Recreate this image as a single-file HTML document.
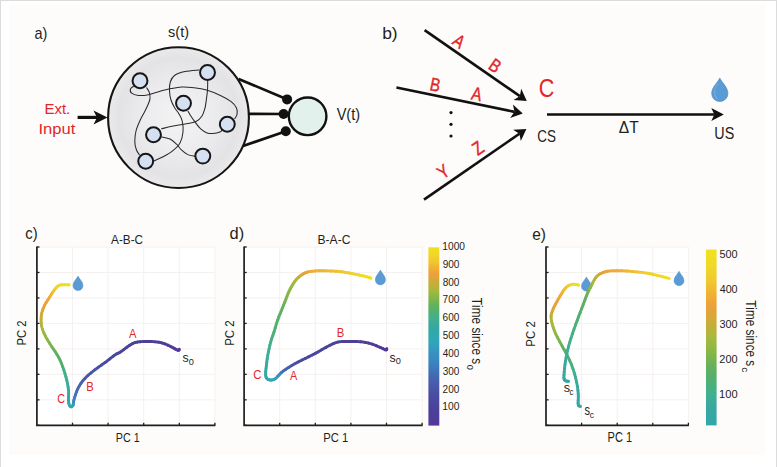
<!DOCTYPE html>
<html><head><meta charset="utf-8"><style>
html,body{margin:0;padding:0;background:#fff;overflow:hidden;}
svg{display:block;}
text{font-family:"Liberation Sans",sans-serif;font-kerning:none;stroke-width:0px;}
</style></head><body>
<svg width="777" height="467" viewBox="0 0 777 467">
<rect x="0" y="0" width="777" height="467" fill="#ffffff"/>
<rect x="9" y="4" width="756" height="451" fill="#fdfcfa"/>
<rect x="0" y="0" width="777" height="1" fill="#dcdcdc"/>
<rect x="0" y="0" width="1" height="467" fill="#dcdcdc"/>
<rect x="776" y="0" width="1" height="467" fill="#dcdcdc"/>
<text transform="translate(34.48,38.60) scale(0.908,1)" font-size="16" fill="#231f20" stroke="#231f20" >a)</text>
<text transform="translate(168.10,36.60) scale(0.934,1)" font-size="15.5" fill="#231f20" stroke="#231f20" >s(t)</text>
<text transform="translate(336.64,120.30) scale(0.922,1)" font-size="15.8" fill="#231f20" stroke="#231f20" >V(t)</text>
<text transform="translate(44.47,114.20) scale(0.972,1)" font-size="15.4" fill="#e3262a" stroke="#e3262a" >Ext.</text>
<text transform="translate(38.47,133.60) scale(1.076,1)" font-size="15.4" fill="#e3262a" stroke="#e3262a" >Input</text>
<line x1="77.6" y1="117.4" x2="97" y2="117.4" stroke="#111" stroke-width="3.2"/>
<path d="M107.5,117.4 L93.5,110.6 L97,117.4 L93.5,124.4 Z" fill="#111"/>
<defs><radialGradient id="bg" cx="0.5" cy="0.5" r="0.5"><stop offset="0" stop-color="#f3f3f4"/><stop offset="0.5" stop-color="#ecebed"/><stop offset="0.85" stop-color="#e3e2e4"/><stop offset="1" stop-color="#eaeaeb"/></radialGradient></defs>
<circle cx="178.5" cy="117.6" r="70.4" fill="url(#bg)" stroke="#151515" stroke-width="2.1"/>
<g stroke="#111" stroke-width="2.7"><line x1="238.6" y1="78.9" x2="286.9" y2="99.3"/><line x1="248.9" y1="113.9" x2="283.6" y2="114"/><line x1="243" y1="146" x2="285.9" y2="131.3"/></g>
<circle cx="307.6" cy="116.3" r="18.8" fill="#e2f1ec" stroke="#111" stroke-width="2.4"/>
<g fill="#111"><circle cx="287.1" cy="99.4" r="5.0"/><circle cx="283.6" cy="114.0" r="5.0"/><circle cx="285.8" cy="131.2" r="5.0"/></g>
<g fill="none" stroke="#2a2a2a" stroke-width="1.05"><path d="M146.50,87.50 C146.97,88.32 148.72,90.55 149.30,92.40 C149.88,94.25 150.17,96.67 150.00,98.60 C149.83,100.53 149.13,101.93 148.30,104.00 C147.47,106.07 146.38,108.25 145.00,111.00 C143.62,113.75 141.50,117.17 140.00,120.50 C138.50,123.83 136.87,127.45 136.00,131.00 C135.13,134.55 134.73,138.67 134.80,141.80 C134.87,144.93 135.62,147.60 136.40,149.80 C137.18,152.00 138.98,154.13 139.50,155.00"/><path d="M134.00,86.00 C133.42,86.47 130.90,87.60 130.50,88.80 C130.10,90.00 130.27,92.08 131.60,93.20 C132.93,94.32 135.67,95.25 138.50,95.50 C141.33,95.75 145.25,95.33 148.60,94.70 C151.95,94.07 154.87,92.72 158.60,91.70 C162.33,90.68 167.13,89.38 171.00,88.60 C174.87,87.82 177.95,87.13 181.80,87.00 C185.65,86.87 189.98,87.28 194.10,87.80 C198.22,88.32 202.12,88.82 206.50,90.10 C210.88,91.38 216.28,93.57 220.40,95.50 C224.52,97.43 228.52,99.62 231.20,101.70 C233.88,103.78 235.53,105.87 236.50,108.00 C237.47,110.13 237.33,112.67 237.00,114.50 C236.67,116.33 234.92,118.25 234.50,119.00"/><path d="M199.50,70.00 C197.08,70.27 189.17,70.68 185.00,71.60 C180.83,72.52 176.95,73.77 174.50,75.50 C172.05,77.23 171.13,79.42 170.30,82.00 C169.47,84.58 169.38,88.00 169.50,91.00 C169.62,94.00 170.17,97.25 171.00,100.00 C171.83,102.75 173.17,105.17 174.50,107.50 C175.83,109.83 177.72,111.75 179.00,114.00 C180.28,116.25 181.53,118.00 182.20,121.00 C182.87,124.00 183.37,128.33 183.00,132.00 C182.63,135.67 181.83,139.77 180.00,143.00 C178.17,146.23 175.00,149.02 172.00,151.40 C169.00,153.78 165.00,155.70 162.00,157.30 C159.00,158.90 155.33,160.38 154.00,161.00"/><path d="M207.70,80.50 C207.67,82.08 207.73,86.75 207.50,90.00 C207.27,93.25 206.72,97.00 206.30,100.00 C205.88,103.00 205.72,105.33 205.00,108.00 C204.28,110.67 203.50,113.75 202.00,116.00 C200.50,118.25 198.83,120.17 196.00,121.50 C193.17,122.83 189.00,123.22 185.00,124.00 C181.00,124.78 175.95,125.38 172.00,126.20 C168.05,127.02 163.08,128.45 161.30,128.90"/><path d="M187.80,111.00 C188.25,111.75 189.43,113.85 190.50,115.50 C191.57,117.15 192.50,118.67 194.20,120.90 C195.90,123.13 198.55,126.90 200.70,128.90 C202.85,130.90 205.05,132.13 207.10,132.90 C209.15,133.67 210.87,133.63 213.00,133.50 C215.13,133.37 218.40,132.68 219.90,132.10 C221.40,131.52 221.65,130.35 222.00,130.00"/><path d="M161.30,136.80 C162.77,137.17 167.55,137.77 170.10,139.00 C172.65,140.23 174.72,142.40 176.60,144.20 C178.48,146.00 179.53,148.07 181.40,149.80 C183.27,151.53 185.53,153.53 187.80,154.60 C190.07,155.67 193.80,155.93 195.00,156.20"/></g>
<g fill="#d5e1f3" stroke="#161616" stroke-width="2.0"><circle cx="140.0" cy="80.7" r="7.45"/><circle cx="207.5" cy="72.5" r="7.45"/><circle cx="183.5" cy="103.3" r="7.45"/><circle cx="227.3" cy="124.2" r="7.45"/><circle cx="153.5" cy="134.7" r="7.45"/><circle cx="145.7" cy="161.3" r="7.45"/><circle cx="202.8" cy="156.1" r="7.45"/></g>
<text transform="translate(382.18,38.70) scale(1.090,1)" font-size="16" fill="#231f20" stroke="#231f20" >b)</text>
<line x1="424.60" y1="30.10" x2="519.82" y2="96.15" stroke="#111" stroke-width="2.6"/>
<path d="M526.80,101.00 L513.48,100.03 L519.82,96.15 L521.23,88.86 Z" fill="#111"/>
<line x1="396.40" y1="87.40" x2="514.48" y2="111.87" stroke="#111" stroke-width="2.6"/>
<path d="M522.80,113.60 L510.16,117.92 L514.48,111.87 L512.92,104.61 Z" fill="#111"/>
<line x1="424.00" y1="199.60" x2="519.41" y2="133.73" stroke="#111" stroke-width="2.6"/>
<path d="M526.40,128.90 L520.80,141.03 L519.41,133.73 L513.07,129.84 Z" fill="#111"/>
<line x1="547.00" y1="114.50" x2="714.30" y2="114.50" stroke="#111" stroke-width="2.6"/>
<path d="M723.80,114.50 L711.30,121.10 L714.30,114.50 L711.30,107.90 Z" fill="#111"/>
<g fill="#111"><circle cx="451" cy="112.6" r="1.6"/><circle cx="451" cy="124.3" r="1.6"/><circle cx="451" cy="136" r="1.6"/></g>
<text transform="translate(451.20,43.60) rotate(34.75) scale(0.820,1)" font-size="18.6" fill="#e3262a" stroke="#e3262a" style="stroke-width:0.45px">A</text>
<text transform="translate(487.20,67.90) rotate(34.75) scale(0.820,1)" font-size="18.6" fill="#e3262a" stroke="#e3262a" style="stroke-width:0.45px">B</text>
<text transform="translate(429.10,89.90) rotate(11.70) scale(0.820,1)" font-size="18.6" fill="#e3262a" stroke="#e3262a" style="stroke-width:0.45px">B</text>
<text transform="translate(470.60,99.20) rotate(11.70) scale(0.820,1)" font-size="18.6" fill="#e3262a" stroke="#e3262a" style="stroke-width:0.45px">A</text>
<text transform="translate(442.80,179.70) rotate(-34.60) scale(0.820,1)" font-size="18.6" fill="#e3262a" stroke="#e3262a" style="stroke-width:0.45px">Y</text>
<text transform="translate(477.80,156.00) rotate(-34.60) scale(0.820,1)" font-size="18.6" fill="#e3262a" stroke="#e3262a" style="stroke-width:0.45px">Z</text>
<text transform="translate(538.70,96.70) scale(0.832,1)" font-size="26" fill="#e3262a" stroke="#e3262a" >C</text>
<text transform="translate(537.22,141.50) scale(0.774,1)" font-size="17.4" fill="#231f20" stroke="#231f20" >CS</text>
<text transform="translate(618.74,133.00) scale(0.950,1)" font-size="16.4" fill="#231f20" stroke="#231f20" >ΔT</text>
<text transform="translate(714.29,138.80) scale(0.826,1)" font-size="17.4" fill="#231f20" stroke="#231f20" >US</text>
<path d="M719.80,78.01 C721.82,82.47 727.90,87.33 727.90,93.40 A8.10,8.10 0 0 1 711.70,93.40 C711.70,87.33 717.77,82.47 719.80,78.01 Z" fill="#5b9bd5" stroke="#4b8acb" stroke-width="0.7"/>
<path d="M717.77,83.68 C713.72,88.54 713.32,95.02 716.96,98.67" fill="none" stroke="#73abde" stroke-width="1.3" stroke-linecap="round" opacity="0.8"/>
<rect x="36.9" y="247.0" width="178.0" height="178.3" fill="#ffffff"/>
<g stroke="#f5f1ef" stroke-width="1"><line x1="36.9" y1="247.00" x2="214.9" y2="247.00"/><line x1="36.9" y1="272.47" x2="214.9" y2="272.47"/><line x1="36.9" y1="297.94" x2="214.9" y2="297.94"/><line x1="36.9" y1="323.41" x2="214.9" y2="323.41"/><line x1="36.9" y1="348.89" x2="214.9" y2="348.89"/><line x1="36.9" y1="374.36" x2="214.9" y2="374.36"/><line x1="36.9" y1="399.83" x2="214.9" y2="399.83"/><line x1="36.9" y1="425.30" x2="214.9" y2="425.30"/><line x1="72.50" y1="247.0" x2="72.50" y2="425.3"/><line x1="108.10" y1="247.0" x2="108.10" y2="425.3"/><line x1="143.70" y1="247.0" x2="143.70" y2="425.3"/><line x1="179.30" y1="247.0" x2="179.30" y2="425.3"/><line x1="214.90" y1="247.0" x2="214.90" y2="425.3"/></g>
<g stroke="#1f1f1f" stroke-width="1.3"><line x1="36.9" y1="247.00" x2="39.5" y2="247.00"/><line x1="36.9" y1="272.47" x2="39.5" y2="272.47"/><line x1="36.9" y1="297.94" x2="39.5" y2="297.94"/><line x1="36.9" y1="323.41" x2="39.5" y2="323.41"/><line x1="36.9" y1="348.89" x2="39.5" y2="348.89"/><line x1="36.9" y1="374.36" x2="39.5" y2="374.36"/><line x1="36.9" y1="399.83" x2="39.5" y2="399.83"/><line x1="36.9" y1="425.30" x2="39.5" y2="425.30"/><line x1="72.50" y1="425.3" x2="72.50" y2="422.7"/><line x1="108.10" y1="425.3" x2="108.10" y2="422.7"/><line x1="143.70" y1="425.3" x2="143.70" y2="422.7"/><line x1="179.30" y1="425.3" x2="179.30" y2="422.7"/><line x1="214.90" y1="425.3" x2="214.90" y2="422.7"/></g>
<path d="M36.9,246.4 L36.9,425.3 L215.4,425.3" fill="none" stroke="#1f1f1f" stroke-width="1.7"/>
<rect x="244.1" y="247.0" width="178.0" height="178.3" fill="#ffffff"/>
<g stroke="#f5f1ef" stroke-width="1"><line x1="244.1" y1="247.00" x2="422.1" y2="247.00"/><line x1="244.1" y1="272.47" x2="422.1" y2="272.47"/><line x1="244.1" y1="297.94" x2="422.1" y2="297.94"/><line x1="244.1" y1="323.41" x2="422.1" y2="323.41"/><line x1="244.1" y1="348.89" x2="422.1" y2="348.89"/><line x1="244.1" y1="374.36" x2="422.1" y2="374.36"/><line x1="244.1" y1="399.83" x2="422.1" y2="399.83"/><line x1="244.1" y1="425.30" x2="422.1" y2="425.30"/><line x1="279.70" y1="247.0" x2="279.70" y2="425.3"/><line x1="315.30" y1="247.0" x2="315.30" y2="425.3"/><line x1="350.90" y1="247.0" x2="350.90" y2="425.3"/><line x1="386.50" y1="247.0" x2="386.50" y2="425.3"/><line x1="422.10" y1="247.0" x2="422.10" y2="425.3"/></g>
<g stroke="#1f1f1f" stroke-width="1.3"><line x1="244.1" y1="247.00" x2="246.7" y2="247.00"/><line x1="244.1" y1="272.47" x2="246.7" y2="272.47"/><line x1="244.1" y1="297.94" x2="246.7" y2="297.94"/><line x1="244.1" y1="323.41" x2="246.7" y2="323.41"/><line x1="244.1" y1="348.89" x2="246.7" y2="348.89"/><line x1="244.1" y1="374.36" x2="246.7" y2="374.36"/><line x1="244.1" y1="399.83" x2="246.7" y2="399.83"/><line x1="244.1" y1="425.30" x2="246.7" y2="425.30"/><line x1="279.70" y1="425.3" x2="279.70" y2="422.7"/><line x1="315.30" y1="425.3" x2="315.30" y2="422.7"/><line x1="350.90" y1="425.3" x2="350.90" y2="422.7"/><line x1="386.50" y1="425.3" x2="386.50" y2="422.7"/><line x1="422.10" y1="425.3" x2="422.10" y2="422.7"/></g>
<path d="M244.1,246.4 L244.1,425.3 L422.6,425.3" fill="none" stroke="#1f1f1f" stroke-width="1.7"/>
<rect x="546.0" y="247.0" width="142.4" height="178.3" fill="#ffffff"/>
<g stroke="#f5f1ef" stroke-width="1"><line x1="546.0" y1="247.00" x2="688.4" y2="247.00"/><line x1="546.0" y1="272.47" x2="688.4" y2="272.47"/><line x1="546.0" y1="297.94" x2="688.4" y2="297.94"/><line x1="546.0" y1="323.41" x2="688.4" y2="323.41"/><line x1="546.0" y1="348.89" x2="688.4" y2="348.89"/><line x1="546.0" y1="374.36" x2="688.4" y2="374.36"/><line x1="546.0" y1="399.83" x2="688.4" y2="399.83"/><line x1="546.0" y1="425.30" x2="688.4" y2="425.30"/><line x1="581.60" y1="247.0" x2="581.60" y2="425.3"/><line x1="617.20" y1="247.0" x2="617.20" y2="425.3"/><line x1="652.80" y1="247.0" x2="652.80" y2="425.3"/><line x1="688.40" y1="247.0" x2="688.40" y2="425.3"/></g>
<g stroke="#1f1f1f" stroke-width="1.3"><line x1="546.0" y1="247.00" x2="548.6" y2="247.00"/><line x1="546.0" y1="272.47" x2="548.6" y2="272.47"/><line x1="546.0" y1="297.94" x2="548.6" y2="297.94"/><line x1="546.0" y1="323.41" x2="548.6" y2="323.41"/><line x1="546.0" y1="348.89" x2="548.6" y2="348.89"/><line x1="546.0" y1="374.36" x2="548.6" y2="374.36"/><line x1="546.0" y1="399.83" x2="548.6" y2="399.83"/><line x1="546.0" y1="425.30" x2="548.6" y2="425.30"/><line x1="581.60" y1="425.3" x2="581.60" y2="422.7"/><line x1="617.20" y1="425.3" x2="617.20" y2="422.7"/><line x1="652.80" y1="425.3" x2="652.80" y2="422.7"/><line x1="688.40" y1="425.3" x2="688.40" y2="422.7"/></g>
<path d="M546.0,246.4 L546.0,425.3 L688.9,425.3" fill="none" stroke="#1f1f1f" stroke-width="1.7"/>
<text transform="translate(25.27,238.50) scale(0.927,1)" font-size="16" fill="#231f20" stroke="#231f20" >c)</text>
<text transform="translate(229.51,238.50) scale(1.027,1)" font-size="16" fill="#231f20" stroke="#231f20" >d)</text>
<text transform="translate(532.24,239.60) scale(0.964,1)" font-size="16" fill="#231f20" stroke="#231f20" >e)</text>
<text transform="translate(111.08,243.60) scale(0.860,1)" font-size="13.7" fill="#231f20" stroke="#231f20" >A-B-C</text>
<text transform="translate(317.51,243.60) scale(0.884,1)" font-size="13.7" fill="#231f20" stroke="#231f20" >B-A-C</text>
<text transform="translate(115.82,442.00) scale(0.785,1)" font-size="13.7" fill="#231f20" stroke="#231f20" >PC 1</text>
<text transform="translate(323.18,442.00) scale(0.820,1)" font-size="13.7" fill="#231f20" stroke="#231f20" >PC 1</text>
<text transform="translate(607.59,442.20) scale(0.806,1)" font-size="13.7" fill="#231f20" stroke="#231f20" >PC 1</text>
<text transform="translate(25.75,0.00) rotate(-90) translate(-345.53,0.00) scale(0.830,1)" font-size="13.6" fill="#231f20" stroke="#231f20" >PC 2</text>
<text transform="translate(233.70,0.00) rotate(-90) translate(-345.84,0.00) scale(0.841,1)" font-size="13.6" fill="#231f20" stroke="#231f20" >PC 2</text>
<text transform="translate(535.20,0.00) rotate(-90) translate(-346.64,0.00) scale(0.844,1)" font-size="13.6" fill="#231f20" stroke="#231f20" >PC 2</text>
<g fill="none" stroke-width="2.9" stroke-linecap="round" stroke-linejoin="round"><polyline points="179.30,349.30 179.26,349.37 179.22,349.47 179.17,349.60 179.12,349.74" stroke="#54389a"/><polyline points="179.12,349.74 179.06,349.89 178.98,350.02 178.87,350.14 178.75,350.24" stroke="#54389a"/><polyline points="178.75,350.24 178.59,350.29 178.40,350.30 178.18,350.26 177.93,350.20" stroke="#54389a"/><polyline points="177.93,350.20 177.67,350.11 177.37,349.99 177.06,349.86 176.72,349.70" stroke="#53399a"/><polyline points="176.72,349.70 176.35,349.52 175.96,349.33 175.54,349.12 175.10,348.90" stroke="#53399a"/><polyline points="175.10,348.90 174.63,348.66 174.13,348.39 173.60,348.09 173.05,347.78" stroke="#53399a"/><polyline points="173.05,347.78 172.47,347.45 171.88,347.11 171.26,346.78 170.62,346.44" stroke="#523a99"/><polyline points="170.62,346.44 169.97,346.11 169.30,345.80 168.61,345.49 167.88,345.16" stroke="#513b99"/><polyline points="167.88,345.16 167.13,344.83 166.36,344.50 165.57,344.18 164.77,343.86" stroke="#503c99"/><polyline points="164.77,343.86 163.97,343.56 163.17,343.28 162.38,343.02 161.60,342.80" stroke="#4f3d99"/><polyline points="161.60,342.80 160.83,342.61 160.06,342.44 159.29,342.30 158.52,342.18" stroke="#4f3d99"/><polyline points="158.52,342.18 157.75,342.07 156.98,341.98 156.21,341.90 155.44,341.83" stroke="#4e3e99"/><polyline points="155.44,341.83 154.67,341.77 153.90,341.70 153.13,341.64 152.36,341.59" stroke="#4e3e98"/><polyline points="152.36,341.59 151.59,341.55 150.82,341.53 150.05,341.51 149.28,341.49" stroke="#4e3e98"/><polyline points="149.28,341.49 148.51,341.49 147.74,341.49 146.97,341.49 146.20,341.50" stroke="#4d3f98"/><polyline points="146.20,341.50 145.42,341.51 144.62,341.53 143.81,341.55 143.00,341.57" stroke="#4d3f98"/><polyline points="143.00,341.57 142.19,341.61 141.40,341.65 140.63,341.69 139.88,341.75" stroke="#4c4098"/><polyline points="139.88,341.75 139.17,341.82 138.50,341.90 137.88,341.99 137.30,342.07" stroke="#4c4098"/><polyline points="137.30,342.07 136.75,342.17 136.24,342.27 135.74,342.38 135.25,342.51" stroke="#4c4098"/><polyline points="135.25,342.51 134.77,342.65 134.29,342.81 133.80,342.99 133.30,343.20" stroke="#4c4199"/><polyline points="133.30,343.20 132.80,343.43 132.32,343.66 131.85,343.92 131.38,344.19" stroke="#4c4199"/><polyline points="131.38,344.19 130.91,344.48 130.43,344.79 129.93,345.12 129.39,345.48" stroke="#4c429a"/><polyline points="129.39,345.48 128.82,345.88 128.20,346.30 127.52,346.78 126.77,347.32" stroke="#4b429a"/><polyline points="126.77,347.32 125.98,347.91 125.16,348.53 124.32,349.16 123.48,349.80" stroke="#4b439b"/><polyline points="123.48,349.80 122.65,350.41 121.85,351.00 121.09,351.53 120.40,352.00" stroke="#4b449c"/><polyline points="120.40,352.00 119.78,352.38 119.24,352.68 118.75,352.93 118.28,353.14" stroke="#4b459d"/><polyline points="118.28,353.14 117.83,353.33 117.37,353.54 116.88,353.77 116.33,354.06" stroke="#4b469e"/><polyline points="116.33,354.06 115.71,354.43 115.00,354.90 114.19,355.48 113.29,356.14" stroke="#4a479f"/><polyline points="113.29,356.14 112.32,356.88 111.30,357.67 110.25,358.50 109.18,359.34" stroke="#4a48a0"/><polyline points="109.18,359.34 108.12,360.18 107.07,361.00 106.06,361.78 105.10,362.50" stroke="#4a49a1"/><polyline points="105.10,362.50 104.19,363.17 103.30,363.80 102.43,364.41 101.57,365.00" stroke="#4a4ca2"/><polyline points="101.57,365.00 100.72,365.59 99.88,366.17 99.05,366.75 98.21,367.35" stroke="#4a4ea3"/><polyline points="98.21,367.35 97.36,367.96 96.50,368.60 95.62,369.27 94.72,369.95" stroke="#4a51a5"/><polyline points="94.72,369.95 93.81,370.65 92.89,371.36 91.98,372.08 91.08,372.80" stroke="#4a54a6"/><polyline points="91.08,372.80 90.21,373.52 89.36,374.22 88.56,374.92 87.80,375.60" stroke="#4a57a7"/><polyline points="87.80,375.60 87.09,376.26 86.41,376.91 85.77,377.55 85.16,378.17" stroke="#495aa9"/><polyline points="85.16,378.17 84.57,378.80 84.00,379.43 83.46,380.05 82.93,380.69" stroke="#485daa"/><polyline points="82.93,380.69 82.41,381.34 81.90,382.00 81.40,382.68 80.93,383.36" stroke="#4760ac"/><polyline points="80.93,383.36 80.46,384.06 80.02,384.76 79.59,385.46 79.18,386.17" stroke="#4663ae"/><polyline points="79.18,386.17 78.79,386.88 78.41,387.59 78.05,388.30 77.70,389.00" stroke="#4566af"/><polyline points="77.70,389.00 77.37,389.71 77.06,390.42 76.77,391.15 76.49,391.87" stroke="#436bb2"/><polyline points="76.49,391.87 76.23,392.59 75.98,393.31 75.75,394.01 75.52,394.70" stroke="#4072b6"/><polyline points="75.52,394.70 75.31,395.36 75.10,396.00 74.90,396.62 74.72,397.22" stroke="#3d78bb"/><polyline points="74.72,397.22 74.54,397.81 74.38,398.39 74.22,398.95 74.08,399.49" stroke="#3b7ebf"/><polyline points="74.08,399.49 73.95,400.02 73.82,400.53 73.71,401.03 73.60,401.50" stroke="#3983c0"/><polyline points="73.60,401.50 73.51,401.96 73.44,402.41 73.39,402.84 73.36,403.25" stroke="#3889c0"/><polyline points="73.36,403.25 73.32,403.65 73.29,404.03 73.25,404.38 73.19,404.71" stroke="#3791c0"/><polyline points="73.19,404.71 73.11,405.02 73.00,405.30 72.86,405.56 72.70,405.80" stroke="#3598bf"/><polyline points="72.70,405.80 72.53,406.03 72.33,406.23 72.13,406.41 71.92,406.56" stroke="#339ebd"/><polyline points="71.92,406.56 71.71,406.68 71.50,406.76 71.30,406.80 71.10,406.80" stroke="#32a3ba"/><polyline points="71.10,406.80 70.90,406.75 70.70,406.67 70.49,406.54 70.28,406.38" stroke="#30a7b9"/><polyline points="70.28,406.38 70.08,406.19 69.87,405.96 69.68,405.71 69.50,405.43" stroke="#30a8b5"/><polyline points="69.50,405.43 69.34,405.13 69.20,404.80 69.08,404.46 68.97,404.09" stroke="#30a8b0"/><polyline points="68.97,404.09 68.88,403.70 68.80,403.29 68.73,402.84 68.66,402.37" stroke="#30a8ad"/><polyline points="68.66,402.37 68.61,401.86 68.57,401.31 68.53,400.73 68.50,400.10" stroke="#30a8aa"/><polyline points="68.50,400.10 68.48,399.42 68.49,398.67 68.51,397.88 68.54,397.04" stroke="#32a8a6"/><polyline points="68.54,397.04 68.57,396.18 68.61,395.30 68.63,394.41 68.64,393.52" stroke="#35a8a3"/><polyline points="68.64,393.52 68.63,392.65 68.60,391.80 68.54,390.96 68.47,390.12" stroke="#38a8a0"/><polyline points="68.47,390.12 68.39,389.28 68.29,388.44 68.19,387.60 68.07,386.76" stroke="#3aaa9d"/><polyline points="68.07,386.76 67.94,385.92 67.80,385.08 67.66,384.24 67.50,383.40" stroke="#3bab9a"/><polyline points="67.50,383.40 67.33,382.57 67.15,381.74 66.96,380.91 66.76,380.08" stroke="#3dad96"/><polyline points="66.76,380.08 66.55,379.25 66.33,378.42 66.11,377.59 65.87,376.76" stroke="#3eae93"/><polyline points="65.87,376.76 65.64,375.93 65.40,375.10 65.16,374.26 64.91,373.42" stroke="#40b08f"/><polyline points="64.91,373.42 64.66,372.58 64.40,371.74 64.14,370.90 63.87,370.06" stroke="#45b086"/><polyline points="63.87,370.06 63.59,369.22 63.30,368.38 63.01,367.54 62.70,366.70" stroke="#4ab07d"/><polyline points="62.70,366.70 62.39,365.86 62.06,365.01 61.73,364.16 61.39,363.31" stroke="#4eb074"/><polyline points="61.39,363.31 61.04,362.46 60.69,361.62 60.33,360.79 59.96,359.98" stroke="#53b06d"/><polyline points="59.96,359.98 59.58,359.18 59.20,358.40 58.81,357.65 58.41,356.91" stroke="#57b069"/><polyline points="58.41,356.91 58.00,356.19 57.58,355.49 57.16,354.80 56.74,354.12" stroke="#5bb065"/><polyline points="56.74,354.12 56.30,353.44 55.87,352.76 55.44,352.08 55.00,351.40" stroke="#5eb062"/><polyline points="55.00,351.40 54.56,350.73 54.13,350.07 53.69,349.43 53.25,348.79" stroke="#65b15d"/><polyline points="53.25,348.79 52.81,348.15 52.36,347.50 51.90,346.84 51.44,346.16" stroke="#6eb256"/><polyline points="51.44,346.16 50.98,345.45 50.50,344.70 50.01,343.92 49.49,343.10" stroke="#78b450"/><polyline points="49.49,343.10 48.96,342.26 48.42,341.39 47.88,340.51 47.35,339.62" stroke="#82b64a"/><polyline points="47.35,339.62 46.82,338.73 46.32,337.84 45.84,336.96 45.40,336.10" stroke="#8bb743"/><polyline points="45.40,336.10 44.98,335.25 44.57,334.40 44.18,333.55 43.80,332.70" stroke="#95b840"/><polyline points="43.80,332.70 43.44,331.85 43.10,331.00 42.78,330.15 42.49,329.30" stroke="#9eb840"/><polyline points="42.49,329.30 42.23,328.45 42.00,327.60 41.80,326.74 41.63,325.86" stroke="#a8b840"/><polyline points="41.63,325.86 41.49,324.97 41.37,324.08 41.28,323.19 41.21,322.32" stroke="#b2b53d"/><polyline points="41.21,322.32 41.16,321.45 41.12,320.61 41.11,319.79 41.10,319.00" stroke="#bbb23a"/><polyline points="41.10,319.00 41.11,318.25 41.14,317.52 41.19,316.83 41.25,316.15" stroke="#c5ae38"/><polyline points="41.25,316.15 41.34,315.49 41.44,314.83 41.56,314.18 41.69,313.53" stroke="#ceab38"/><polyline points="41.69,313.53 41.84,312.87 42.00,312.20 42.18,311.52 42.37,310.84" stroke="#d7a838"/><polyline points="42.37,310.84 42.58,310.16 42.80,309.48 43.04,308.81 43.29,308.13" stroke="#dda639"/><polyline points="43.29,308.13 43.57,307.45 43.86,306.77 44.17,306.08 44.50,305.40" stroke="#e3a43a"/><polyline points="44.50,305.40 44.86,304.71 45.24,304.02 45.66,303.33 46.09,302.64" stroke="#e8a23b"/><polyline points="46.09,302.64 46.54,301.95 46.99,301.26 47.45,300.57 47.91,299.88" stroke="#eca13b"/><polyline points="47.91,299.88 48.36,299.19 48.80,298.50 49.23,297.81 49.66,297.11" stroke="#eea637"/><polyline points="49.66,297.11 50.09,296.40 50.52,295.70 50.95,294.99 51.38,294.30" stroke="#efae32"/><polyline points="51.38,294.30 51.81,293.62 52.24,292.96 52.67,292.31 53.10,291.70" stroke="#f0b730"/><polyline points="53.10,291.70 53.53,291.10 53.96,290.50 54.39,289.91 54.82,289.34" stroke="#f0c230"/><polyline points="54.82,289.34 55.26,288.78 55.69,288.25 56.12,287.75 56.55,287.29" stroke="#f0cc2e"/><polyline points="56.55,287.29 56.97,286.87 57.40,286.50 57.81,286.18 58.19,285.91" stroke="#f0d32b"/><polyline points="58.19,285.91 58.56,285.68 58.92,285.49 59.29,285.32 59.67,285.19" stroke="#f0d728"/><polyline points="59.67,285.19 60.09,285.07 60.54,284.98 61.04,284.89 61.60,284.80" stroke="#f0d927"/><polyline points="61.60,284.80 62.26,284.73 63.04,284.69 63.90,284.68 64.80,284.68" stroke="#f0db25"/><polyline points="64.80,284.68 65.71,284.69 66.61,284.72 67.45,284.75 68.20,284.77" stroke="#f0de22"/><polyline points="68.20,284.77 68.83,284.79 69.30,284.80" stroke="#f0df21"/></g>
<g fill="none" stroke-width="2.9" stroke-linecap="round" stroke-linejoin="round"><polyline points="386.80,348.70 386.76,348.79 386.74,348.92 386.72,349.09 386.70,349.28" stroke="#54389a"/><polyline points="386.70,349.28 386.66,349.46 386.59,349.64 386.48,349.78 386.32,349.88" stroke="#54389a"/><polyline points="386.32,349.88 386.09,349.93 385.80,349.90 385.44,349.80 385.02,349.64" stroke="#54389a"/><polyline points="385.02,349.64 384.56,349.43 384.05,349.19 383.49,348.91 382.89,348.60" stroke="#53399a"/><polyline points="382.89,348.60 382.24,348.28 381.56,347.95 380.85,347.62 380.10,347.30" stroke="#53399a"/><polyline points="380.10,347.30 379.30,346.97 378.43,346.60 377.51,346.21 376.55,345.81" stroke="#53399a"/><polyline points="376.55,345.81 375.55,345.40 374.53,345.00 373.51,344.61 372.49,344.24" stroke="#523a99"/><polyline points="372.49,344.24 371.48,343.90 370.50,343.60 369.54,343.34 368.60,343.09" stroke="#513b99"/><polyline points="368.60,343.09 367.66,342.87 366.72,342.67 365.78,342.49 364.82,342.32" stroke="#503c99"/><polyline points="364.82,342.32 363.85,342.17 362.86,342.03 361.85,341.91 360.80,341.80" stroke="#4f3d99"/><polyline points="360.80,341.80 359.72,341.71 358.60,341.63 357.46,341.57 356.29,341.53" stroke="#4f3d99"/><polyline points="356.29,341.53 355.11,341.50 353.92,341.48 352.73,341.48 351.54,341.48" stroke="#4e3e98"/><polyline points="351.54,341.48 350.36,341.49 349.20,341.50 348.04,341.51 346.86,341.50" stroke="#4d3f98"/><polyline points="346.86,341.50 345.69,341.50 344.51,341.50 343.33,341.52 342.17,341.56" stroke="#4c4098"/><polyline points="342.17,341.56 341.01,341.63 339.88,341.74 338.78,341.89 337.70,342.10" stroke="#4c4199"/><polyline points="337.70,342.10 336.66,342.37 335.65,342.69 334.67,343.05 333.70,343.45" stroke="#4c429a"/><polyline points="333.70,343.45 332.76,343.89 331.82,344.35 330.88,344.82 329.93,345.31" stroke="#4b439b"/><polyline points="329.93,345.31 328.97,345.81 328.00,346.30 326.99,346.82 325.93,347.38" stroke="#4b439b"/><polyline points="325.93,347.38 324.84,347.98 323.75,348.60 322.66,349.22 321.60,349.83" stroke="#4b449c"/><polyline points="321.60,349.83 320.59,350.42 319.64,350.97 318.77,351.47 318.00,351.90" stroke="#4b459d"/><polyline points="318.00,351.90 317.36,352.26 316.84,352.54 316.42,352.77 316.06,352.97" stroke="#4b469e"/><polyline points="316.06,352.97 315.74,353.14 315.43,353.30 315.10,353.47 314.72,353.67" stroke="#4a469e"/><polyline points="314.72,353.67 314.27,353.91 313.70,354.20 313.03,354.54 312.30,354.92" stroke="#4a479f"/><polyline points="312.30,354.92 311.51,355.32 310.67,355.74 309.81,356.18 308.92,356.63" stroke="#4a48a0"/><polyline points="308.92,356.63 308.02,357.08 307.13,357.53 306.25,357.97 305.40,358.40" stroke="#4a48a0"/><polyline points="305.40,358.40 304.56,358.82 303.73,359.23 302.89,359.64 302.05,360.05" stroke="#4a4aa1"/><polyline points="302.05,360.05 301.21,360.46 300.36,360.87 299.52,361.29 298.68,361.72" stroke="#4a4ba2"/><polyline points="298.68,361.72 297.84,362.15 297.00,362.60 296.15,363.06 295.28,363.55" stroke="#4a4da3"/><polyline points="295.28,363.55 294.41,364.04 293.53,364.54 292.66,365.05 291.80,365.56" stroke="#4a51a5"/><polyline points="291.80,365.56 290.96,366.06 290.14,366.55 289.35,367.04 288.60,367.50" stroke="#4a56a7"/><polyline points="288.60,367.50 287.88,367.95 287.18,368.40 286.49,368.84 285.83,369.27" stroke="#495caa"/><polyline points="285.83,369.27 285.19,369.69 284.58,370.11 283.99,370.52 283.43,370.92" stroke="#4663ae"/><polyline points="283.43,370.92 282.90,371.32 282.40,371.70 281.94,372.07 281.53,372.43" stroke="#426cb3"/><polyline points="281.53,372.43 281.15,372.78 280.81,373.11 280.48,373.44 280.17,373.77" stroke="#3d79bb"/><polyline points="280.17,373.77 279.86,374.10 279.56,374.43 279.24,374.76 278.90,375.10" stroke="#3984c0"/><polyline points="278.90,375.10 278.55,375.46 278.20,375.83 277.85,376.21 277.50,376.59" stroke="#388cc0"/><polyline points="277.50,376.59 277.15,376.98 276.80,377.35 276.45,377.70 276.10,378.03" stroke="#3694c0"/><polyline points="276.10,378.03 275.75,378.33 275.40,378.60 275.05,378.83 274.70,379.04" stroke="#349bbe"/><polyline points="274.70,379.04 274.35,379.23 274.00,379.40 273.65,379.54 273.30,379.67" stroke="#32a1bb"/><polyline points="273.30,379.67 272.95,379.78 272.60,379.87 272.25,379.94 271.90,380.00" stroke="#31a6b9"/><polyline points="271.90,380.00 271.54,380.04 271.18,380.07 270.81,380.08 270.44,380.07" stroke="#30a8b7"/><polyline points="270.44,380.07 270.07,380.04 269.71,379.99 269.36,379.92 269.02,379.84" stroke="#30a8b6"/><polyline points="269.02,379.84 268.70,379.73 268.40,379.60 268.11,379.45 267.83,379.29" stroke="#30a8b3"/><polyline points="267.83,379.29 267.56,379.10 267.30,378.90 267.06,378.68 266.83,378.43" stroke="#30a8af"/><polyline points="266.83,378.43 266.61,378.16 266.42,377.87 266.25,377.55 266.10,377.20" stroke="#30a8aa"/><polyline points="266.10,377.20 265.98,376.83 265.88,376.43 265.81,376.01 265.75,375.56" stroke="#31a8a7"/><polyline points="265.75,375.56 265.71,375.09 265.69,374.59 265.68,374.08 265.68,373.54" stroke="#32a8a6"/><polyline points="265.68,373.54 265.69,372.98 265.70,372.40 265.72,371.80 265.76,371.16" stroke="#34a8a4"/><polyline points="265.76,371.16 265.82,370.51 265.88,369.83 265.96,369.12 266.04,368.41" stroke="#36a8a2"/><polyline points="266.04,368.41 266.13,367.67 266.22,366.92 266.31,366.17 266.40,365.40" stroke="#37a8a1"/><polyline points="266.40,365.40 266.49,364.62 266.59,363.81 266.68,362.98 266.79,362.14" stroke="#39a99e"/><polyline points="266.79,362.14 266.89,361.28 267.00,360.42 267.12,359.56 267.24,358.70" stroke="#3aaa9b"/><polyline points="267.24,358.70 267.37,357.84 267.50,357.00 267.64,356.17 267.78,355.34" stroke="#3cac98"/><polyline points="267.78,355.34 267.93,354.51 268.08,353.68 268.24,352.85 268.40,352.02" stroke="#3eae95"/><polyline points="268.40,352.02 268.57,351.19 268.74,350.36 268.92,349.53 269.10,348.70" stroke="#3faf92"/><polyline points="269.10,348.70 269.29,347.86 269.48,347.02 269.67,346.18 269.87,345.34" stroke="#41b08e"/><polyline points="269.87,345.34 270.07,344.50 270.29,343.66 270.50,342.82 270.73,341.98" stroke="#44b089"/><polyline points="270.73,341.98 270.96,341.14 271.20,340.30 271.45,339.47 271.71,338.66" stroke="#46b084"/><polyline points="271.71,338.66 271.98,337.86 272.26,337.05 272.54,336.25 272.83,335.44" stroke="#48b07f"/><polyline points="272.83,335.44 273.12,334.61 273.42,333.77 273.71,332.90 274.00,332.00" stroke="#4bb07a"/><polyline points="274.00,332.00 274.29,331.06 274.59,330.08 274.89,329.06 275.19,328.03" stroke="#4db076"/><polyline points="275.19,328.03 275.49,326.98 275.79,325.94 276.09,324.91 276.40,323.90" stroke="#50b071"/><polyline points="276.40,323.90 276.70,322.93 277.00,322.00 277.30,321.12 277.60,320.26" stroke="#53b06d"/><polyline points="277.60,320.26 277.90,319.44 278.20,318.63 278.50,317.84 278.80,317.07" stroke="#56b06a"/><polyline points="278.80,317.07 279.10,316.30 279.40,315.54 279.70,314.77 280.00,314.00" stroke="#59b067"/><polyline points="280.00,314.00 280.30,313.23 280.60,312.47 280.90,311.71 281.20,310.96" stroke="#5db063"/><polyline points="281.20,310.96 281.50,310.22 281.80,309.48 282.10,308.73 282.40,307.99" stroke="#62b05f"/><polyline points="282.40,307.99 282.70,307.25 283.00,306.50 283.30,305.75 283.61,304.98" stroke="#68b15b"/><polyline points="283.61,304.98 283.92,304.22 284.22,303.45 284.53,302.69 284.84,301.93" stroke="#6eb256"/><polyline points="284.84,301.93 285.14,301.18 285.43,300.44 285.72,299.71 286.00,299.00" stroke="#75b352"/><polyline points="286.00,299.00 286.27,298.30 286.53,297.61 286.78,296.93 287.03,296.26" stroke="#7bb54e"/><polyline points="287.03,296.26 287.28,295.60 287.52,294.95 287.76,294.32 288.00,293.69" stroke="#82b64a"/><polyline points="288.00,293.69 288.25,293.09 288.50,292.50 288.76,291.93 289.02,291.37" stroke="#87b746"/><polyline points="289.02,291.37 289.28,290.83 289.55,290.30 289.81,289.79 290.08,289.29" stroke="#8bb743"/><polyline points="290.08,289.29 290.34,288.80 290.60,288.32 290.85,287.86 291.10,287.40" stroke="#8eb841"/><polyline points="291.10,287.40 291.34,286.96 291.58,286.54 291.81,286.13 292.04,285.73" stroke="#92b840"/><polyline points="292.04,285.73 292.26,285.34 292.49,284.97 292.71,284.60 292.94,284.23" stroke="#97b840"/><polyline points="292.94,284.23 293.17,283.86 293.40,283.50 293.63,283.14 293.86,282.78" stroke="#9cb840"/><polyline points="293.86,282.78 294.09,282.43 294.32,282.08 294.56,281.74 294.79,281.41" stroke="#a2b840"/><polyline points="294.79,281.41 295.03,281.07 295.28,280.75 295.54,280.42 295.80,280.10" stroke="#a9b840"/><polyline points="295.80,280.10 296.08,279.78 296.36,279.46 296.66,279.15 296.96,278.84" stroke="#b0b53d"/><polyline points="296.96,278.84 297.26,278.53 297.57,278.23 297.88,277.94 298.19,277.65" stroke="#b8b33b"/><polyline points="298.19,277.65 298.50,277.37 298.80,277.10 299.10,276.84 299.40,276.59" stroke="#c0b038"/><polyline points="299.40,276.59 299.69,276.34 299.99,276.11 300.29,275.88 300.59,275.65" stroke="#c8ad38"/><polyline points="300.59,275.65 300.89,275.43 301.19,275.22 301.49,275.01 301.80,274.80" stroke="#d0ab38"/><polyline points="301.80,274.80 302.11,274.60 302.42,274.40 302.73,274.21 303.04,274.02" stroke="#d8a838"/><polyline points="303.04,274.02 303.35,273.84 303.67,273.66 303.99,273.49 304.32,273.32" stroke="#dfa539"/><polyline points="304.32,273.32 304.65,273.16 305.00,273.00 305.34,272.85 305.68,272.70" stroke="#e5a33b"/><polyline points="305.68,272.70 306.02,272.55 306.36,272.42 306.71,272.28 307.08,272.15" stroke="#eca03c"/><polyline points="307.08,272.15 307.46,272.03 307.88,271.91 308.32,271.80 308.80,271.70" stroke="#eda538"/><polyline points="308.80,271.70 309.33,271.60 309.91,271.51 310.52,271.43 311.16,271.35" stroke="#eeaa35"/><polyline points="311.16,271.35 311.83,271.28 312.49,271.22 313.15,271.15 313.80,271.10" stroke="#efad32"/><polyline points="313.80,271.10 314.42,271.05 315.00,271.00 315.53,270.96 316.01,270.92" stroke="#f0b030"/><polyline points="316.01,270.92 316.46,270.89 316.89,270.87 317.32,270.85 317.77,270.83" stroke="#f0b230"/><polyline points="317.77,270.83 318.24,270.82 318.76,270.81 319.34,270.81 320.00,270.80" stroke="#f0b430"/><polyline points="320.00,270.80 320.74,270.80 321.54,270.79 322.41,270.80 323.31,270.80" stroke="#f0b630"/><polyline points="323.31,270.80 324.25,270.81 325.21,270.82 326.17,270.83 327.14,270.85" stroke="#f0b830"/><polyline points="327.14,270.85 328.08,270.87 329.00,270.90 329.90,270.93 330.80,270.96" stroke="#f0ba30"/><polyline points="330.80,270.96 331.70,271.00 332.60,271.04 333.50,271.08 334.40,271.13" stroke="#f0bc30"/><polyline points="334.40,271.13 335.30,271.19 336.20,271.25 337.10,271.32 338.00,271.40" stroke="#f0be30"/><polyline points="338.00,271.40 338.90,271.49 339.80,271.59 340.70,271.69 341.60,271.80" stroke="#f0c130"/><polyline points="341.60,271.80 342.50,271.92 343.40,272.04 344.30,272.17 345.20,272.31" stroke="#f0c630"/><polyline points="345.20,272.31 346.10,272.45 347.00,272.60 347.91,272.76 348.83,272.93" stroke="#f0ca2f"/><polyline points="348.83,272.93 349.76,273.11 350.69,273.29 351.61,273.48 352.53,273.67" stroke="#f0ce2d"/><polyline points="352.53,273.67 353.43,273.86 354.32,274.05 355.17,274.23 356.00,274.40" stroke="#f0d22b"/><polyline points="356.00,274.40 356.80,274.56 357.58,274.72 358.35,274.88 359.10,275.03" stroke="#f0d629"/><polyline points="359.10,275.03 359.82,275.17 360.54,275.32 361.23,275.47 361.90,275.61" stroke="#f0d828"/><polyline points="361.90,275.61 362.56,275.76 363.20,275.90 363.83,276.05 364.44,276.19" stroke="#f0da26"/><polyline points="364.44,276.19 365.05,276.34 365.64,276.49 366.21,276.64 366.75,276.78" stroke="#f0dc24"/><polyline points="366.75,276.78 367.26,276.92 367.75,277.05 368.19,277.18 368.60,277.30" stroke="#f0dd23"/><polyline points="368.60,277.30 368.97,277.41 369.30,277.53 369.59,277.64 369.85,277.74" stroke="#f0de22"/><polyline points="369.85,277.74 370.09,277.84 370.29,277.93 370.48,278.01 370.64,278.09" stroke="#f0df21"/><polyline points="370.64,278.09 370.78,278.15 370.90,278.20" stroke="#f0e020"/></g>
<path d="M586.40,276.99 C587.62,279.69 591.30,282.62 591.30,286.30 A4.90,4.90 0 0 1 581.50,286.30 C581.50,282.62 585.17,279.69 586.40,276.99 Z" fill="#5b9bd5" stroke="#4b8acb" stroke-width="0.45"/>
<g fill="none" stroke-width="2.9" stroke-linecap="round" stroke-linejoin="round"><polyline points="580.50,406.40 580.38,406.35 580.22,406.31 580.03,406.26 579.81,406.20" stroke="#32a8a6"/><polyline points="579.81,406.20 579.58,406.12 579.35,406.04 579.13,405.94 578.92,405.82" stroke="#33a8a5"/><polyline points="578.92,405.82 578.74,405.67 578.60,405.50 578.49,405.32 578.40,405.13" stroke="#33a8a5"/><polyline points="578.40,405.13 578.33,404.94 578.27,404.73 578.22,404.49 578.18,404.23" stroke="#33a8a5"/><polyline points="578.18,404.23 578.15,403.92 578.13,403.57 578.12,403.17 578.10,402.70" stroke="#34a8a4"/><polyline points="578.10,402.70 578.10,402.17 578.11,401.57 578.14,400.92 578.18,400.23" stroke="#35a8a3"/><polyline points="578.18,400.23 578.23,399.49 578.27,398.73 578.30,397.94 578.32,397.13" stroke="#36a8a2"/><polyline points="578.32,397.13 578.32,396.32 578.30,395.50 578.26,394.68 578.21,393.83" stroke="#37a8a1"/><polyline points="578.21,393.83 578.16,392.97 578.09,392.08 578.01,391.18 577.92,390.26" stroke="#38a8a0"/><polyline points="577.92,390.26 577.81,389.32 577.69,388.37 577.56,387.39 577.40,386.40" stroke="#39a99d"/><polyline points="577.40,386.40 577.23,385.38 577.04,384.34 576.83,383.27 576.61,382.17" stroke="#3bab9a"/><polyline points="576.61,382.17 576.37,381.07 576.12,379.95 575.86,378.83 575.58,377.72" stroke="#3cac97"/><polyline points="575.58,377.72 575.30,376.60 575.00,375.50 574.69,374.40 574.37,373.29" stroke="#3eae94"/><polyline points="574.37,373.29 574.04,372.18 573.69,371.06 573.34,369.94 572.97,368.83" stroke="#41b08e"/><polyline points="572.97,368.83 572.59,367.73 572.20,366.64 571.81,365.56 571.40,364.50" stroke="#46b085"/><polyline points="571.40,364.50 570.98,363.45 570.54,362.41 570.09,361.37 569.63,360.34" stroke="#4ab07c"/><polyline points="569.63,360.34 569.16,359.32 568.68,358.32 568.20,357.33 567.73,356.36" stroke="#4eb074"/><polyline points="567.73,356.36 567.26,355.42 566.80,354.50 566.35,353.63 565.92,352.81" stroke="#53b06d"/><polyline points="565.92,352.81 565.49,352.03 565.06,351.28 564.64,350.53 564.20,349.78" stroke="#58b068"/><polyline points="564.20,349.78 563.76,349.01 563.29,348.19 562.81,347.33 562.30,346.40" stroke="#5db063"/><polyline points="562.30,346.40 561.75,345.38 561.14,344.27 560.50,343.09 559.84,341.88" stroke="#68b15b"/><polyline points="559.84,341.88 559.18,340.64 558.53,339.42 557.90,338.23 557.31,337.10" stroke="#78b450"/><polyline points="557.31,337.10 556.77,336.05 556.30,335.10 555.90,334.26 555.55,333.51" stroke="#86b647"/><polyline points="555.55,333.51 555.25,332.82 554.98,332.19 554.74,331.59 554.53,331.02" stroke="#90b840"/><polyline points="554.53,331.02 554.32,330.47 554.12,329.90 553.92,329.32 553.70,328.70" stroke="#98b840"/><polyline points="553.70,328.70 553.48,328.06 553.26,327.42 553.04,326.78 552.83,326.14" stroke="#9eb840"/><polyline points="552.83,326.14 552.63,325.51 552.44,324.87 552.26,324.23 552.09,323.59" stroke="#a3b840"/><polyline points="552.09,323.59 551.94,322.94 551.80,322.30 551.67,321.65 551.55,320.98" stroke="#a9b840"/><polyline points="551.55,320.98 551.44,320.31 551.33,319.64 551.24,318.97 551.17,318.30" stroke="#b0b53d"/><polyline points="551.17,318.30 551.12,317.65 551.09,317.01 551.08,316.39 551.10,315.80" stroke="#b8b33b"/><polyline points="551.10,315.80 551.15,315.23 551.23,314.69 551.34,314.17 551.47,313.66" stroke="#c0b038"/><polyline points="551.47,313.66 551.61,313.16 551.77,312.67 551.95,312.19 552.13,311.70" stroke="#c8ad38"/><polyline points="552.13,311.70 552.31,311.20 552.50,310.70 552.69,310.19 552.89,309.69" stroke="#d0ab38"/><polyline points="552.89,309.69 553.10,309.19 553.32,308.69 553.54,308.19 553.78,307.69" stroke="#d8a838"/><polyline points="553.78,307.69 554.02,307.18 554.27,306.66 554.53,306.14 554.80,305.60" stroke="#dfa539"/><polyline points="554.80,305.60 555.08,305.05 555.37,304.48 555.67,303.89 555.98,303.30" stroke="#e5a33b"/><polyline points="555.98,303.30 556.30,302.71 556.62,302.11 556.94,301.52 557.27,300.93" stroke="#eaa13c"/><polyline points="557.27,300.93 557.59,300.36 557.90,299.80 558.21,299.25 558.53,298.70" stroke="#eda33a"/><polyline points="558.53,298.70 558.85,298.16 559.17,297.62 559.49,297.09 559.80,296.56" stroke="#eea737"/><polyline points="559.80,296.56 560.11,296.05 560.42,295.55 560.71,295.07 561.00,294.60" stroke="#efab34"/><polyline points="561.00,294.60 561.27,294.15 561.54,293.71 561.79,293.29 562.03,292.88" stroke="#f0af31"/><polyline points="562.03,292.88 562.27,292.48 562.51,292.08 562.75,291.70 563.00,291.33" stroke="#f0b230"/><polyline points="563.00,291.33 563.24,290.96 563.50,290.60 563.76,290.24 564.02,289.89" stroke="#f0b630"/><polyline points="564.02,289.89 564.28,289.55 564.54,289.21 564.81,288.89 565.07,288.57" stroke="#f0bb30"/><polyline points="565.07,288.57 565.35,288.26 565.62,287.96 565.91,287.68 566.20,287.40" stroke="#f0c030"/><polyline points="566.20,287.40 566.49,287.13 566.79,286.88 567.09,286.63 567.39,286.39" stroke="#f0c630"/><polyline points="567.39,286.39 567.69,286.16 568.01,285.94 568.34,285.73 568.68,285.54" stroke="#f0cb2e"/><polyline points="568.68,285.54 569.03,285.36 569.40,285.20 569.79,285.05 570.20,284.91" stroke="#f0d02c"/><polyline points="570.20,284.91 570.62,284.78 571.05,284.66 571.49,284.56 571.95,284.48" stroke="#f0d52a"/><polyline points="571.95,284.48 572.41,284.40 572.87,284.35 573.33,284.32 573.80,284.30" stroke="#f0d927"/><polyline points="573.80,284.30 574.29,284.31 574.83,284.36 575.39,284.44 575.96,284.54" stroke="#f0db25"/><polyline points="575.96,284.54 576.52,284.64 577.07,284.76 577.57,284.87 578.03,284.96" stroke="#f0de22"/><polyline points="578.03,284.96 578.41,285.04 578.70,285.10" stroke="#f0df21"/></g>
<g fill="none" stroke-width="2.9" stroke-linecap="round" stroke-linejoin="round"><polyline points="568.60,381.30 568.44,381.28 568.22,381.27 567.96,381.25 567.67,381.24" stroke="#30a8a8"/><polyline points="567.67,381.24 567.36,381.21 567.04,381.18 566.73,381.14 566.43,381.08" stroke="#31a8a7"/><polyline points="566.43,381.08 566.15,381.00 565.90,380.90 565.68,380.79 565.45,380.69" stroke="#31a8a7"/><polyline points="565.45,380.69 565.24,380.58 565.03,380.46 564.83,380.32 564.65,380.15" stroke="#31a8a7"/><polyline points="564.65,380.15 564.48,379.96 564.33,379.72 564.20,379.44 564.10,379.10" stroke="#32a8a6"/><polyline points="564.10,379.10 564.02,378.72 563.97,378.29 563.94,377.84 563.93,377.34" stroke="#32a8a6"/><polyline points="563.93,377.34 563.93,376.81 563.95,376.24 563.98,375.63 564.01,374.99" stroke="#33a8a5"/><polyline points="564.01,374.99 564.06,374.31 564.10,373.60 564.15,372.84 564.21,372.01" stroke="#34a8a4"/><polyline points="564.21,372.01 564.28,371.13 564.37,370.21 564.46,369.27 564.55,368.31" stroke="#36a8a2"/><polyline points="564.55,368.31 564.66,367.34 564.77,366.37 564.88,365.42 565.00,364.50" stroke="#37a8a1"/><polyline points="565.00,364.50 565.12,363.60 565.25,362.70 565.39,361.80 565.53,360.90" stroke="#39a99e"/><polyline points="565.53,360.90 565.68,360.00 565.83,359.10 565.99,358.20 566.15,357.30" stroke="#3aaa9b"/><polyline points="566.15,357.30 566.32,356.40 566.50,355.50 566.68,354.60 566.87,353.71" stroke="#3cac98"/><polyline points="566.87,353.71 567.05,352.82 567.25,351.93 567.45,351.04 567.66,350.14" stroke="#3dad96"/><polyline points="567.66,350.14 567.88,349.23 568.11,348.30 568.35,347.36 568.60,346.40" stroke="#3eae93"/><polyline points="568.60,346.40 568.87,345.42 569.14,344.42 569.43,343.40 569.73,342.37" stroke="#40b091"/><polyline points="569.73,342.37 570.04,341.33 570.35,340.28 570.68,339.22 571.01,338.15" stroke="#42b08d"/><polyline points="571.01,338.15 571.35,337.08 571.70,336.00 572.06,334.91 572.43,333.80" stroke="#44b088"/><polyline points="572.43,333.80 572.81,332.67 573.21,331.53 573.61,330.39 574.01,329.25" stroke="#46b083"/><polyline points="574.01,329.25 574.41,328.11 574.81,326.99 575.21,325.88 575.60,324.80" stroke="#49b07e"/><polyline points="575.60,324.80 575.98,323.74 576.36,322.70 576.74,321.67 577.12,320.65" stroke="#4bb07a"/><polyline points="577.12,320.65 577.50,319.64 577.88,318.64 578.26,317.64 578.64,316.63" stroke="#4eb075"/><polyline points="578.64,316.63 579.02,315.62 579.40,314.60 579.79,313.56 580.19,312.50" stroke="#50b070"/><polyline points="580.19,312.50 580.59,311.44 581.00,310.36 581.41,309.29 581.81,308.24" stroke="#54b06c"/><polyline points="581.81,308.24 582.20,307.20 582.58,306.20 582.95,305.23 583.30,304.30" stroke="#59b067"/><polyline points="583.30,304.30 583.63,303.42 583.95,302.57 584.25,301.76 584.54,300.98" stroke="#5db063"/><polyline points="584.54,300.98 584.82,300.21 585.10,299.47 585.38,298.74 585.65,298.02" stroke="#62b05f"/><polyline points="585.65,298.02 585.92,297.31 586.20,296.60 586.48,295.89 586.77,295.17" stroke="#68b15b"/><polyline points="586.77,295.17 587.06,294.45 587.34,293.74 587.62,293.05 587.90,292.38" stroke="#6eb256"/><polyline points="587.90,292.38 588.17,291.75 588.43,291.15 588.67,290.60 588.90,290.10" stroke="#75b352"/><polyline points="588.90,290.10 589.10,289.68 589.27,289.36 589.42,289.10 589.56,288.89" stroke="#7bb54e"/><polyline points="589.56,288.89 589.69,288.69 589.83,288.50 589.98,288.27 590.15,288.00" stroke="#82b64a"/><polyline points="590.15,288.00 590.36,287.65 590.60,287.20 590.88,286.64 591.20,285.99" stroke="#8ab744"/><polyline points="591.20,285.99 591.54,285.27 591.91,284.50 592.29,283.70 592.68,282.89" stroke="#98b840"/><polyline points="592.68,282.89 593.07,282.10 593.46,281.34 593.84,280.63 594.20,280.00" stroke="#a8b840"/><polyline points="594.20,280.00 594.55,279.43 594.88,278.90 595.20,278.40 595.53,277.93" stroke="#b5b43c"/><polyline points="595.53,277.93 595.85,277.48 596.18,277.06 596.53,276.65 596.89,276.25" stroke="#beb139"/><polyline points="596.89,276.25 597.28,275.87 597.70,275.50 598.15,275.14 598.61,274.80" stroke="#c8ad38"/><polyline points="598.61,274.80 599.10,274.47 599.60,274.16 600.12,273.87 600.65,273.59" stroke="#d3aa38"/><polyline points="600.65,273.59 601.20,273.32 601.76,273.07 602.32,272.83 602.90,272.60" stroke="#dda639"/><polyline points="602.90,272.60 603.46,272.38 604.00,272.17 604.53,271.98 605.06,271.80" stroke="#e5a33b"/><polyline points="605.06,271.80 605.62,271.63 606.21,271.48 606.86,271.34 607.58,271.21" stroke="#eca03c"/><polyline points="607.58,271.21 608.39,271.10 609.30,271.00 610.33,270.92 611.47,270.85" stroke="#eda538"/><polyline points="611.47,270.85 612.70,270.80 614.00,270.77 615.35,270.74 616.74,270.73" stroke="#eeaa35"/><polyline points="616.74,270.73 618.13,270.74 619.52,270.75 620.88,270.77 622.20,270.80" stroke="#efae32"/><polyline points="622.20,270.80 623.48,270.84 624.76,270.90 626.04,270.97 627.32,271.05" stroke="#f0b330"/><polyline points="627.32,271.05 628.60,271.14 629.88,271.24 631.16,271.34 632.44,271.46" stroke="#f0b930"/><polyline points="632.44,271.46 633.72,271.58 635.00,271.70 636.29,271.83 637.59,271.96" stroke="#f0bf30"/><polyline points="637.59,271.96 638.90,272.10 640.22,272.24 641.52,272.39 642.83,272.55" stroke="#f0c630"/><polyline points="642.83,272.55 644.12,272.72 645.40,272.90 646.66,273.10 647.90,273.30" stroke="#f0cc2e"/><polyline points="647.90,273.30 649.12,273.52 650.33,273.76 651.54,274.01 652.72,274.27" stroke="#f0d02c"/><polyline points="652.72,274.27 653.90,274.54 655.06,274.81 656.20,275.09 657.32,275.36" stroke="#f0d42a"/><polyline points="657.32,275.36 658.42,275.64 659.50,275.90 660.59,276.17 661.72,276.46" stroke="#f0d828"/><polyline points="661.72,276.46 662.86,276.76 663.98,277.06 665.08,277.36 666.11,277.65" stroke="#f0db25"/><polyline points="666.11,277.65 667.06,277.91 667.91,278.15 668.63,278.35 669.20,278.50" stroke="#f0de22"/></g>
<path d="M78.00,276.10 C79.25,278.85 83.00,281.85 83.00,285.60 A5.00,5.00 0 0 1 73.00,285.60 C73.00,281.85 76.75,278.85 78.00,276.10 Z" fill="#5b9bd5" stroke="#4b8acb" stroke-width="0.45"/>
<path d="M380.40,270.11 C381.67,272.92 385.50,275.98 385.50,279.80 A5.10,5.10 0 0 1 375.30,279.80 C375.30,275.98 379.12,272.92 380.40,270.11 Z" fill="#5b9bd5" stroke="#4b8acb" stroke-width="0.45"/>
<path d="M679.00,271.20 C680.25,273.95 684.00,276.95 684.00,280.70 A5.00,5.00 0 0 1 674.00,280.70 C674.00,276.95 677.75,273.95 679.00,271.20 Z" fill="#5b9bd5" stroke="#4b8acb" stroke-width="0.45"/>
<text transform="translate(128.88,337.70) scale(0.886,1)" font-size="12.6" fill="#e3262a" stroke="#e3262a" >A</text>
<text transform="translate(86.18,391.00) scale(0.895,1)" font-size="12.6" fill="#e3262a" stroke="#e3262a" >B</text>
<text transform="translate(57.25,402.70) scale(0.852,1)" font-size="12.6" fill="#e3262a" stroke="#e3262a" >C</text>
<text transform="translate(253.32,379.40) scale(0.902,1)" font-size="12.6" fill="#e3262a" stroke="#e3262a" >C</text>
<text transform="translate(289.88,379.80) scale(0.862,1)" font-size="12.6" fill="#e3262a" stroke="#e3262a" >A</text>
<text transform="translate(336.68,337.00) scale(0.895,1)" font-size="12.6" fill="#e3262a" stroke="#e3262a" >B</text>
<text transform="translate(182.56,362.20) scale(0.904,1)" font-size="13.7" fill="#231f20" stroke="#231f20" >s</text>
<text transform="translate(188.74,365.40) scale(1.000,1)" font-size="9.2" fill="#231f20" stroke="#231f20" >0</text>
<text transform="translate(389.56,361.50) scale(0.904,1)" font-size="13.7" fill="#231f20" stroke="#231f20" >s</text>
<text transform="translate(395.74,364.40) scale(1.000,1)" font-size="9.2" fill="#231f20" stroke="#231f20" >0</text>
<text transform="translate(563.75,391.50) scale(0.921,1)" font-size="13.7" fill="#231f20" stroke="#231f20" >s</text>
<text transform="translate(569.57,394.70) scale(0.813,1)" font-size="9.7" fill="#231f20" stroke="#231f20" >c</text>
<text transform="translate(584.59,415.20) scale(0.804,1)" font-size="13.7" fill="#231f20" stroke="#231f20" >s</text>
<text transform="translate(589.74,418.30) scale(0.885,1)" font-size="9.7" fill="#231f20" stroke="#231f20" >c</text>
<defs><linearGradient id="cb1" x1="0" y1="0" x2="0" y2="1"><stop offset="0.000" stop-color="#f0e020"/><stop offset="0.025" stop-color="#f0db25"/><stop offset="0.050" stop-color="#f0d42a"/><stop offset="0.075" stop-color="#f0ca2f"/><stop offset="0.100" stop-color="#f0bc30"/><stop offset="0.125" stop-color="#efad32"/><stop offset="0.150" stop-color="#eca03c"/><stop offset="0.175" stop-color="#dba739"/><stop offset="0.200" stop-color="#c8ad38"/><stop offset="0.225" stop-color="#b4b43c"/><stop offset="0.250" stop-color="#a0b840"/><stop offset="0.275" stop-color="#8cb743"/><stop offset="0.300" stop-color="#78b450"/><stop offset="0.325" stop-color="#64b15d"/><stop offset="0.350" stop-color="#55b06b"/><stop offset="0.375" stop-color="#4ab07c"/><stop offset="0.400" stop-color="#40b090"/><stop offset="0.425" stop-color="#3bab9a"/><stop offset="0.450" stop-color="#36a8a2"/><stop offset="0.475" stop-color="#31a8a7"/><stop offset="0.500" stop-color="#30a8b0"/><stop offset="0.525" stop-color="#30a6b9"/><stop offset="0.550" stop-color="#339fbc"/><stop offset="0.575" stop-color="#3598bf"/><stop offset="0.600" stop-color="#3790c0"/><stop offset="0.625" stop-color="#388ac0"/><stop offset="0.650" stop-color="#3a83c0"/><stop offset="0.675" stop-color="#3d7abc"/><stop offset="0.700" stop-color="#4170b5"/><stop offset="0.725" stop-color="#4467af"/><stop offset="0.750" stop-color="#4760ac"/><stop offset="0.775" stop-color="#4a59a9"/><stop offset="0.800" stop-color="#4a53a6"/><stop offset="0.825" stop-color="#4a4ea3"/><stop offset="0.850" stop-color="#4a48a0"/><stop offset="0.875" stop-color="#4b459d"/><stop offset="0.900" stop-color="#4b429a"/><stop offset="0.925" stop-color="#4c3f98"/><stop offset="0.950" stop-color="#4f3d99"/><stop offset="0.975" stop-color="#523a99"/><stop offset="1.000" stop-color="#54389a"/></linearGradient></defs>
<rect x="428.4" y="247.3" width="10.9" height="178.3" fill="url(#cb1)"/>
<defs><linearGradient id="cb2" x1="0" y1="0" x2="0" y2="1"><stop offset="0.000" stop-color="#f0e020"/><stop offset="0.025" stop-color="#f0e020"/><stop offset="0.050" stop-color="#f0dd23"/><stop offset="0.075" stop-color="#f0da25"/><stop offset="0.100" stop-color="#f0d828"/><stop offset="0.125" stop-color="#f0d32a"/><stop offset="0.150" stop-color="#f0ce2d"/><stop offset="0.175" stop-color="#f0c930"/><stop offset="0.200" stop-color="#f0c230"/><stop offset="0.225" stop-color="#f0ba30"/><stop offset="0.250" stop-color="#f0b330"/><stop offset="0.275" stop-color="#efac33"/><stop offset="0.300" stop-color="#eda538"/><stop offset="0.325" stop-color="#eaa13c"/><stop offset="0.350" stop-color="#e2a43a"/><stop offset="0.375" stop-color="#daa738"/><stop offset="0.400" stop-color="#d0ab38"/><stop offset="0.425" stop-color="#c6ae38"/><stop offset="0.450" stop-color="#bcb139"/><stop offset="0.475" stop-color="#b2b53d"/><stop offset="0.500" stop-color="#a8b840"/><stop offset="0.525" stop-color="#9eb840"/><stop offset="0.550" stop-color="#94b840"/><stop offset="0.575" stop-color="#8ab744"/><stop offset="0.600" stop-color="#80b54b"/><stop offset="0.625" stop-color="#76b451"/><stop offset="0.650" stop-color="#6cb258"/><stop offset="0.675" stop-color="#62b05f"/><stop offset="0.700" stop-color="#5bb065"/><stop offset="0.725" stop-color="#54b06c"/><stop offset="0.750" stop-color="#4eb074"/><stop offset="0.775" stop-color="#49b07e"/><stop offset="0.800" stop-color="#44b088"/><stop offset="0.825" stop-color="#40b091"/><stop offset="0.850" stop-color="#3dad96"/><stop offset="0.875" stop-color="#3aaa9b"/><stop offset="0.900" stop-color="#38a8a0"/><stop offset="0.925" stop-color="#35a8a2"/><stop offset="0.950" stop-color="#33a8a5"/><stop offset="0.975" stop-color="#30a8a8"/><stop offset="1.000" stop-color="#30a8ac"/></linearGradient></defs>
<rect x="706.0" y="249.6" width="10.6" height="175.79999999999998" fill="url(#cb2)"/>
<text transform="translate(442.32,410.45) scale(1.024,1)" font-size="10.0" fill="#231f20" stroke="#231f20" >100</text>
<text transform="translate(442.59,392.60) scale(1.007,1)" font-size="10.0" fill="#231f20" stroke="#231f20" >200</text>
<text transform="translate(442.72,374.75) scale(0.999,1)" font-size="10.0" fill="#231f20" stroke="#231f20" >300</text>
<text transform="translate(442.87,356.90) scale(0.990,1)" font-size="10.0" fill="#231f20" stroke="#231f20" >400</text>
<text transform="translate(442.70,339.05) scale(1.000,1)" font-size="10.0" fill="#231f20" stroke="#231f20" >500</text>
<text transform="translate(442.59,321.20) scale(1.007,1)" font-size="10.0" fill="#231f20" stroke="#231f20" >600</text>
<text transform="translate(442.58,303.35) scale(1.008,1)" font-size="10.0" fill="#231f20" stroke="#231f20" >700</text>
<text transform="translate(442.66,285.50) scale(1.003,1)" font-size="10.0" fill="#231f20" stroke="#231f20" >800</text>
<text transform="translate(442.63,267.65) scale(1.005,1)" font-size="10.0" fill="#231f20" stroke="#231f20" >900</text>
<text transform="translate(442.32,249.80) scale(1.019,1)" font-size="10.0" fill="#231f20" stroke="#231f20" >1000</text>
<text transform="translate(719.05,397.90) scale(1.092,1)" font-size="10.2" fill="#231f20" stroke="#231f20" >100</text>
<text transform="translate(719.35,362.95) scale(1.074,1)" font-size="10.2" fill="#231f20" stroke="#231f20" >200</text>
<text transform="translate(719.49,328.00) scale(1.066,1)" font-size="10.2" fill="#231f20" stroke="#231f20" >300</text>
<text transform="translate(719.65,293.05) scale(1.056,1)" font-size="10.2" fill="#231f20" stroke="#231f20" >400</text>
<text transform="translate(719.46,258.10) scale(1.067,1)" font-size="10.2" fill="#231f20" stroke="#231f20" >500</text>
<text transform="translate(471.80,0.00) rotate(90) translate(297.83,0.00) scale(0.840,1)" font-size="14.1" fill="#231f20" stroke="#231f20" >Time since s</text>
<text transform="translate(467.20,0.00) rotate(90) translate(364.64,0.00) scale(0.979,1)" font-size="9.4" fill="#231f20" stroke="#231f20" >0</text>
<text transform="translate(746.00,0.00) rotate(90) translate(300.14,0.00) scale(0.836,1)" font-size="14.1" fill="#231f20" stroke="#231f20" >Time since s</text>
<text transform="translate(742.20,0.00) rotate(90) translate(367.17,0.00) scale(1.086,1)" font-size="9.4" fill="#231f20" stroke="#231f20" >c</text>
</svg>
</body></html>
